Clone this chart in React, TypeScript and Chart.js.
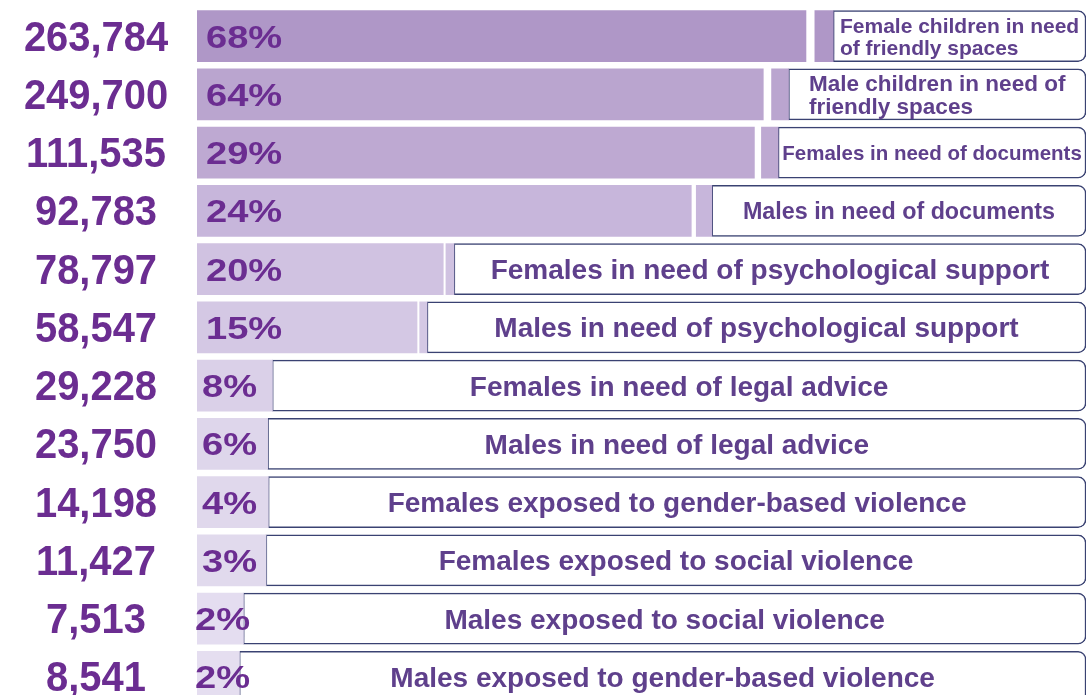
import React, { useEffect, useRef } from "react";
import { Chart, registerables } from "chart.js";

Chart.register(...registerables);

// ---- data ----
const categories: string[][] = [
  ["Female children in need", "of friendly spaces"],
  ["Male children in need of", "friendly spaces"],
  ["Females in need of documents"],
  ["Males in need of documents"],
  ["Females in need of psychological support"],
  ["Males in need of psychological support"],
  ["Females in need of legal advice"],
  ["Males in need of legal advice"],
  ["Females exposed to gender-based violence"],
  ["Females exposed to social violence"],
  ["Males exposed to social violence"],
  ["Males exposed to gender-based violence"],
];
const counts = [263784, 249700, 111535, 92783, 78797, 58547, 29228, 23750, 14198, 11427, 7513, 8541];
const percents = [68, 64, 29, 24, 20, 15, 8, 6, 4, 3, 2, 2];
// bar lengths as drawn (share of the full row width, %)
const barLength = [68.5, 63.7, 62.7, 55.6, 27.7, 24.75, 8.46, 7.94, 8.0, 7.75, 5.2, 4.75];
const gapLength = [1.0, 0.93, 0.79, 0.56, 0.3, 0.3, 0, 0, 0, 0, 0, 0];
const tabLength = [2.06, 1.9, 1.87, 1.75, 0.9, 0.82, 0, 0, 0, 0, 0, 0];

// ---- styles ----
const barColors = [
  "#af97c7", "#baa5cf", "#bea9d2", "#c7b6db", "#d0c2e1", "#d4c8e4",
  "#dad0e8", "#ded6eb", "#e0d8ec", "#e1daed", "#e4ddf0", "#e5def0",
];
const labelSizes = [21, 22.5, 20.5, 23.3, 28, 28, 28, 28, 28, 28, 28, 28];
const NUM_COLOR = "#6b2d91";
const LABEL_COLOR = "#5f408c";
const FONT = "'Liberation Sans', Arial, sans-serif";

const textPlugin = {
  id: "infoText",
  afterDatasetsDraw(chart: any) {
    const ctx = chart.ctx as CanvasRenderingContext2D;
    const barMeta = chart.getDatasetMeta(0);
    const boxMeta = chart.getDatasetMeta(3);
    ctx.save();
    categories.forEach((lines, i) => {
      const el = barMeta.data[i];
      const c = el.y;
      // count on the left (slightly condensed)
      ctx.fillStyle = NUM_COLOR;
      ctx.save();
      ctx.font = `bold 42px ${FONT}`;
      ctx.textAlign = "center";
      ctx.textBaseline = "alphabetic";
      ctx.translate(96, c + 14.5);
      ctx.scale(0.95, 1);
      ctx.fillText(counts[i].toLocaleString("en-US"), 0, 0);
      ctx.restore();
      // percent inside bar start (horizontally stretched)
      ctx.save();
      ctx.font = `bold 32px ${FONT}`;
      ctx.textAlign = "left";
      ctx.translate(i >= 10 ? 195 : i >= 6 ? 202 : 206, c + 11.5);
      ctx.scale(1.19, 1);
      ctx.fillText(percents[i] + "%", 0, 0);
      ctx.restore();
      // label in the box
      const box = boxMeta.data[i];
      const left = Math.min(box.x, box.base);
      const right = Math.max(box.x, box.base);
      const size = labelSizes[i];
      ctx.font = `bold ${size}px ${FONT}`;
      ctx.fillStyle = LABEL_COLOR;
      const capH = size * 0.716;
      const lh = size * 1.05;
      if (lines.length === 1) {
        ctx.textAlign = "center";
        ctx.fillText(lines[0], (left + right) / 2, c + capH / 2);
      } else {
        const w = Math.max(...lines.map((l) => ctx.measureText(l).width));
        const x0 = (left + right) / 2 - w / 2;
        ctx.textAlign = "left";
        lines.forEach((l, k) => {
          ctx.fillText(l, x0, c + capH / 2 + (k - (lines.length - 1) / 2) * lh);
        });
      }
    });
    ctx.restore();
  },
};

export default function App() {
  const ref = useRef<HTMLCanvasElement>(null);
  useEffect(() => {
    if (!ref.current) return;
    const boxLength = barLength.map((b, i) => 100 - b - gapLength[i] - tabLength[i]);
    const chart = new Chart(ref.current, {
      type: "bar",
      data: {
        labels: categories.map((l) => l.join(" ")),
        datasets: [
          { data: barLength, backgroundColor: barColors, borderWidth: 0, barThickness: 51 },
          { data: gapLength, backgroundColor: "rgba(0,0,0,0)", borderWidth: 0, barThickness: 51 },
          { data: tabLength, backgroundColor: barColors, borderWidth: 0, barThickness: 51 },
          {
            data: boxLength,
            backgroundColor: "#ffffff",
            borderColor: "#3a4272",
            borderWidth: 1.5,
            borderSkipped: false,
            borderRadius: { topLeft: 0, bottomLeft: 0, topRight: 8, bottomRight: 8 },
            barThickness: 51,
          },
        ],
      },
      options: {
        indexAxis: "y",
        animation: false,
        responsive: false,
        devicePixelRatio: 1,
        layout: { padding: { left: 197, right: 1, top: 7, bottom: 0 } },
        plugins: { legend: { display: false }, tooltip: { enabled: false } },
        scales: {
          x: { stacked: true, min: 0, max: 100, display: false },
          y: { stacked: true, display: false },
        },
      },
      plugins: [textPlugin],
    } as any);
    return () => chart.destroy();
  }, []);
  return (
    <div style={{ position: "fixed", left: 0, top: 0, width: 1087, height: 706, background: "#fff" }}>
      <canvas ref={ref} width={1087} height={706} style={{ display: "block" }} />
    </div>
  );
}
